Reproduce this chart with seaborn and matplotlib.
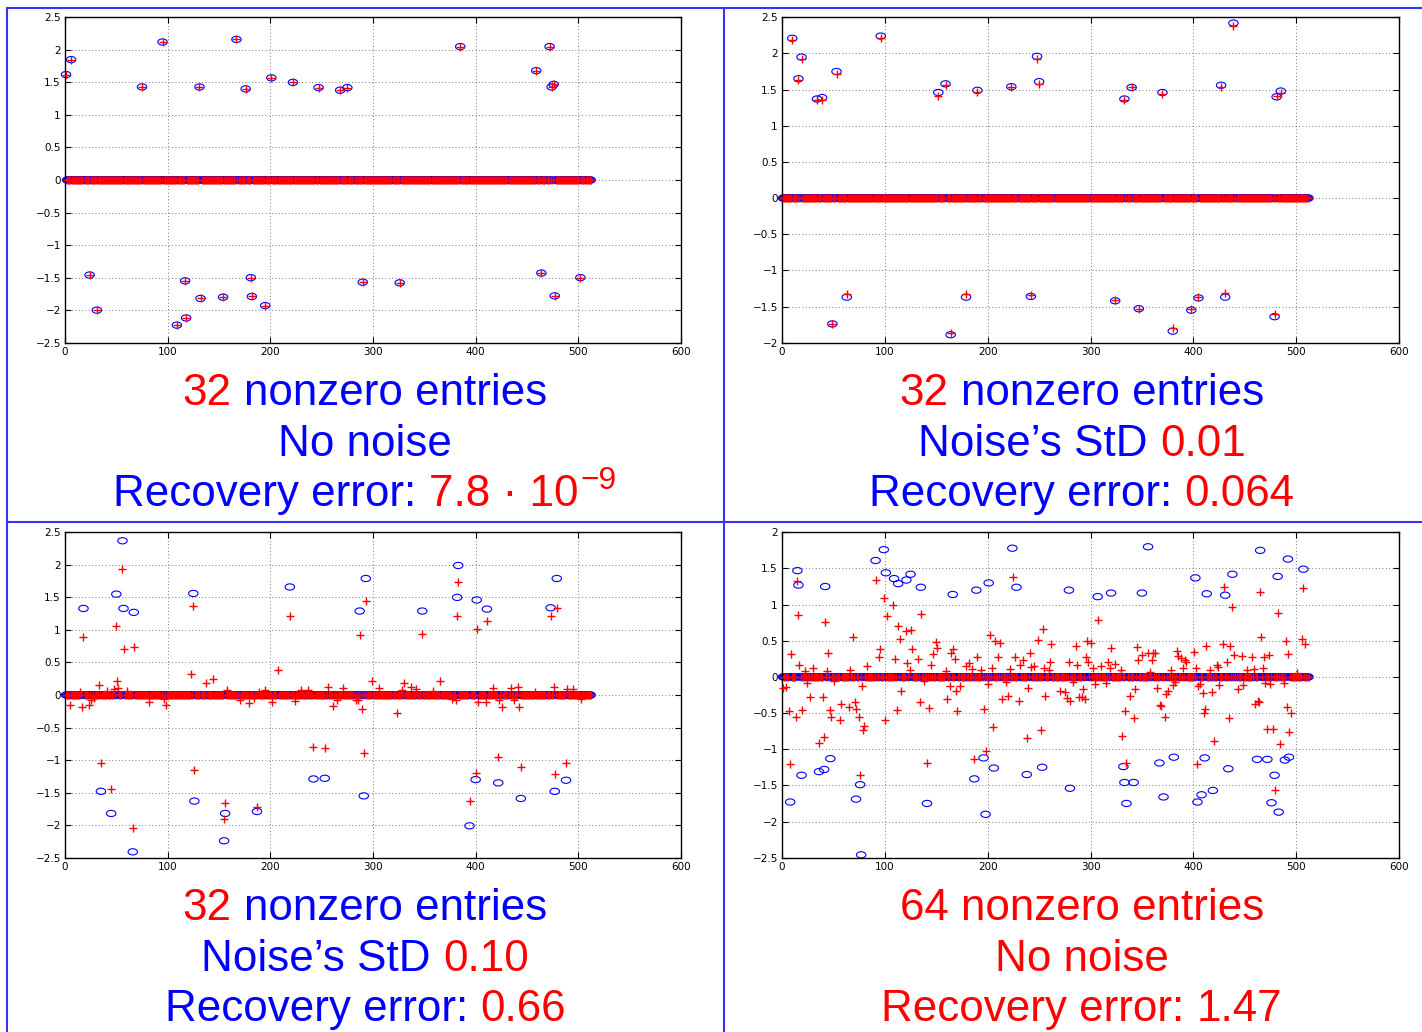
import numpy as np
import pandas as pd
import matplotlib
matplotlib.use("Agg")
import matplotlib.pyplot as plt
import seaborn as sns
from matplotlib.path import Path
from matplotlib.transforms import IdentityTransform
from matplotlib.ticker import FuncFormatter, MultipleLocator
from matplotlib.lines import Line2D

N = 512

# ---- Panel A: 32 spikes, noiseless measurements (index, value) ----
a_true = [(1, 1.62), (6, 1.85), (24, -1.46), (31, -2.00), (75, 1.43), (95, 2.12),
          (109, -2.23), (117, -1.55), (118, -2.12), (131, 1.43), (132, -1.82),
          (154, -1.80), (167, 2.16), (176, 1.40), (181, -1.50), (182, -1.79),
          (195, -1.93), (201, 1.57), (222, 1.50), (247, 1.42), (268, 1.38),
          (275, 1.42), (290, -1.57), (326, -1.58), (385, 2.05), (459, 1.68),
          (464, -1.43), (472, 2.05), (474, 1.43), (476, 1.47), (477, -1.78),
          (502, -1.50)]
# recovery is exact up to 7.8e-9
a_rec = list(a_true)

# ---- Panel B: 32 spikes, noise std 0.01 ----
b_true = [(10, 2.21), (16, 1.65), (19, 1.95), (34, 1.37), (39, 1.39), (49, -1.74),
          (53, 1.75), (63, -1.37), (96, 2.24), (152, 1.46), (159, 1.58),
          (164, -1.89), (179, -1.37), (190, 1.49), (223, 1.54), (242, -1.36),
          (248, 1.96), (250, 1.61), (324, -1.42), (333, 1.37), (340, 1.53),
          (347, -1.53), (370, 1.46), (380, -1.84), (398, -1.55), (405, -1.38),
          (427, 1.56), (431, -1.37), (439, 2.42), (479, -1.64), (481, 1.40),
          (485, 1.48)]
b_rec = [(10, 2.19), (16, 1.63), (19, 1.92), (34, 1.35), (39, 1.36), (49, -1.74),
         (53, 1.72), (63, -1.32), (96, 2.21), (152, 1.41), (159, 1.57),
         (164, -1.87), (179, -1.32), (190, 1.47), (223, 1.54), (242, -1.34),
         (248, 1.92), (250, 1.58), (324, -1.41), (333, 1.35), (340, 1.53),
         (347, -1.53), (370, 1.44), (380, -1.80), (398, -1.54), (405, -1.37),
         (427, 1.53), (431, -1.31), (439, 2.38), (479, -1.60), (481, 1.41),
         (485, 1.46)]

# ---- Panel C: 32 spikes, noise std 0.10 ----
c_true = [(18, 1.33), (35, -1.48), (45, -1.82), (50, 1.55), (56, 2.37), (57, 1.33),
          (66, -2.41), (67, 1.27), (125, 1.56), (126, -1.63), (155, -2.24),
          (156, -1.82), (187, -1.79), (219, 1.66), (242, -1.29), (253, -1.28),
          (287, 1.29), (291, -1.55), (293, 1.79), (348, 1.29), (382, 1.50),
          (383, 1.99), (394, -2.01), (400, -1.30), (401, 1.46), (411, 1.32),
          (422, -1.35), (444, -1.59), (473, 1.34), (477, -1.48), (479, 1.79),
          (488, -1.31)]
c_rec = [(5, -0.15), (15, 0.05), (17, -0.18), (18, 0.89), (23, -0.16), (25, -0.07),
         (28, -0.05), (33, 0.15), (35, -1.05), (41, 0.06), (45, -1.44), (48, 0.09),
         (50, 1.06), (51, 0.22), (52, 0.10), (56, 1.93), (57, 0.71), (60, 0.06),
         (66, -2.05), (67, 0.74), (82, -0.11), (96, -0.06), (98, -0.15), (123, 0.32),
         (125, 1.37), (126, -1.15), (137, 0.19), (144, 0.24), (155, -1.91),
         (156, -1.66), (158, 0.07), (170, -0.07), (179, -0.13), (184, -0.05),
         (187, -1.72), (189, 0.05), (195, 0.07), (202, -0.11), (207, 0.39),
         (219, 1.22), (224, -0.09), (230, 0.07), (237, 0.07), (242, -0.80),
         (253, -0.81), (256, 0.12), (261, -0.17), (265, -0.08), (271, 0.10),
         (283, -0.07), (285, -0.08), (287, 0.92), (289, -0.21), (291, -0.89),
         (293, 1.45), (299, 0.21), (306, 0.10), (323, -0.27), (328, 0.08),
         (330, 0.18), (337, 0.12), (342, 0.09), (348, 0.93), (358, 0.06),
         (365, 0.21), (377, -0.06), (381, -0.07), (382, 1.21), (383, 1.73),
         (394, -1.63), (400, -1.20), (401, 1.02), (402, -0.10), (410, -0.10),
         (411, 1.13), (417, 0.10), (422, -0.96), (423, -0.07), (426, -0.18),
         (434, 0.10), (437, -0.08), (441, 0.12), (442, -0.18), (444, -1.10),
         (458, 0.04), (473, 1.21), (476, 0.12), (477, -1.21), (479, 1.33),
         (488, -1.05), (489, 0.09), (495, 0.09), (503, -0.06)]

# ---- Panel D: 64 spikes, noiseless (recovery fails) ----
d_true = [(8, -1.73), (15, 1.47), (16, 1.27), (19, -1.36), (36, -1.31), (41, -1.28),
          (42, 1.25), (47, -1.13), (72, -1.69), (76, -1.49), (77, -2.46), (91, 1.61),
          (99, 1.76), (101, 1.44), (109, 1.36), (113, 1.29), (121, 1.34), (125, 1.42),
          (135, 1.24), (141, -1.75), (166, 1.14), (187, -1.41), (189, 1.20),
          (196, -1.12), (198, -1.90), (201, 1.30), (206, -1.26), (224, 1.78),
          (228, 1.24), (238, -1.35), (253, -1.25), (279, 1.20), (280, -1.54),
          (307, 1.11), (320, 1.16), (332, -1.24), (333, -1.46), (335, -1.75),
          (342, -1.46), (350, 1.16), (356, 1.80), (367, -1.19), (371, -1.66),
          (381, -1.11), (402, 1.37), (404, -1.73), (408, -1.63), (411, -1.12),
          (413, 1.15), (419, -1.57), (431, 1.13), (434, -1.27), (438, 1.42),
          (462, -1.14), (465, 1.75), (472, -1.14), (476, -1.74), (479, -1.36),
          (482, 1.39), (483, -1.87), (489, -1.15), (492, 1.63), (493, -1.11),
          (507, 1.49)]
d_rec = [(1, -0.16), (4, -0.14), (7, -0.47), (8, -1.21), (9, 0.32), (14, -0.56),
         (15, 1.32), (16, 0.86), (17, 0.17), (19, -0.46), (22, 0.08), (24, -0.09),
         (27, -0.28), (30, 0.13), (36, -0.92), (40, -0.28), (41, -0.83), (42, 0.76),
         (44, 0.08), (45, 0.33), (47, -0.46), (48, -0.55), (51, -0.05), (56, -0.60),
         (57, -0.37), (65, -0.42), (66, 0.10), (69, 0.55), (71, -0.35), (72, -0.44),
         (75, -0.56), (76, -1.36), (78, -0.13), (79, -0.74), (80, -0.68), (83, 0.15),
         (91, 1.34), (94, 0.27), (95, 0.38), (99, 1.09), (100, -0.59), (102, 0.84),
         (108, 0.99), (110, 0.25), (112, -0.46), (113, 0.71), (115, 0.52),
         (116, -0.20), (121, 0.63), (122, 0.19), (124, 0.09), (125, 0.65),
         (126, 0.38), (132, 0.25), (134, -0.34), (135, 0.87), (138, -0.06),
         (141, -1.19), (143, -0.43), (145, 0.16), (147, 0.32), (150, 0.48),
         (151, 0.40), (159, 0.08), (160, -0.31), (163, -0.13), (164, 0.33),
         (166, 0.38), (168, 0.25), (169, -0.20), (170, -0.47), (173, -0.12),
         (179, 0.15), (182, 0.19), (185, 0.11), (187, -1.13), (190, 0.27),
         (194, 0.09), (196, -0.45), (198, -1.02), (200, -0.10), (202, 0.58),
         (204, 0.12), (205, -0.69), (207, 0.50), (210, 0.28), (212, 0.47),
         (214, -0.31), (218, -0.07), (220, -0.26), (222, 0.11), (225, 1.38),
         (227, 0.28), (230, -0.33), (231, 0.16), (234, 0.24), (238, -0.84),
         (239, -0.16), (241, 0.33), (242, 0.14), (245, 0.15), (249, 0.51),
         (252, -0.73), (254, 0.66), (255, 0.13), (256, -0.26), (260, 0.09),
         (261, 0.20), (262, 0.45), (270, -0.20), (275, -0.21), (277, -0.29),
         (279, 0.21), (280, -0.33), (283, -0.07), (286, 0.43), (287, 0.17),
         (289, -0.28), (292, -0.28), (293, -0.17), (295, -0.30), (296, 0.28),
         (297, 0.49), (298, 0.21), (300, 0.47), (302, 0.12), (304, -0.10),
         (307, 0.79), (310, 0.15), (315, -0.09), (317, 0.21), (319, 0.13),
         (320, 0.40), (324, 0.18), (330, 0.09), (331, -0.82), (334, -0.47),
         (335, -1.19), (338, -0.26), (342, -0.57), (343, -0.17), (345, 0.41),
         (346, 0.23), (350, 0.30), (356, 0.33), (358, 0.07), (360, 0.24),
         (361, 0.33), (363, 0.33), (365, -0.15), (368, -0.39), (369, -0.40),
         (372, -0.55), (373, -0.23), (375, -0.20), (378, 0.09), (380, -0.11),
         (382, -0.07), (384, 0.36), (385, 0.29), (388, 0.26), (390, 0.12),
         (392, 0.24), (393, 0.20), (401, 0.34), (403, 0.13), (404, -1.21),
         (405, -0.12), (406, -0.10), (409, -0.22), (410, -0.50), (411, -0.45),
         (412, 0.43), (416, 0.10), (418, -0.21), (420, -0.88), (423, 0.16),
         (424, 0.14), (425, -0.11), (429, 0.46), (430, 1.25), (433, 0.21),
         (435, -0.57), (436, 0.43), (438, 0.97), (440, 0.30), (443, -0.17),
         (447, 0.29), (448, -0.11), (452, 0.10), (457, 0.28), (459, 0.11),
         (460, -0.38), (463, -0.33), (464, -0.35), (465, 1.17), (466, 0.55),
         (468, 0.13), (469, 0.27), (470, -0.09), (472, -0.72), (474, 0.30),
         (475, -0.10), (477, -0.72), (479, -1.57), (482, 0.89), (484, -0.93),
         (488, -0.09), (490, 0.49), (491, -0.42), (492, 0.32), (493, -0.76),
         (495, -0.50), (501, 0.05), (506, 0.53), (507, 1.23), (509, 0.46)]

RED = "#ff0000"
BLUE = "#0000ff"
FRAME = "#3333ff"

# caption lines: (text, colour, gap before in em, superscript?)
captions = {
    "A": [[("32", RED, 0, False), ("nonzero entries", BLUE, 0.278, False)],
          [("No noise", BLUE, 0, False)],
          [("Recovery error:", BLUE, 0, False), ("7.8 \u00b7 10", RED, 0.278, False),
           ("\u22129", RED, 0.05, True)]],
    "B": [[("32", RED, 0, False), ("nonzero entries", BLUE, 0.278, False)],
          [("Noise\u2019s StD", BLUE, 0, False), ("0.01", RED, 0.278, False)],
          [("Recovery error:", BLUE, 0, False), ("0.064", RED, 0.278, False)]],
    "C": [[("32", RED, 0, False), ("nonzero entries", BLUE, 0.278, False)],
          [("Noise\u2019s StD", BLUE, 0, False), ("0.10", RED, 0.278, False)],
          [("Recovery error:", BLUE, 0, False), ("0.66", RED, 0.278, False)]],
    "D": [[("64 nonzero entries", RED, 0, False)],
          [("No noise", RED, 0, False)],
          [("Recovery error:", RED, 0, False), ("1.47", RED, 0.278, False)]],
}


def dense(pairs):
    v = np.zeros(N)
    for i, val in pairs:
        v[i - 1] = val
    return v


W, H, DPI = 1422, 1032, 100
sns.set_style("ticks")
plt.rcParams["font.family"] = ["DejaVu Sans"]
fig = plt.figure(figsize=(W / DPI, H / DPI), dpi=DPI)
fig.patch.set_facecolor("white")

# flat oval marker, wider than tall
theta = np.linspace(0, 2 * np.pi, 49)
oval = Path(np.column_stack([np.cos(theta), 0.66 * np.sin(theta)]), closed=True)
fmt = FuncFormatter(lambda v, p: "0" if abs(v) < 1e-9 else f"{v:g}".replace("-", "\u2212"))

# axes boxes in pixels: (left, top, right, bottom)
panels = [
    ("A", a_true, a_rec, (-2.5, 2.5), (65, 17.3, 681, 342.7), 365),
    ("B", b_true, b_rec, (-2.0, 2.5), (782, 17.3, 1399, 342.7), 1082),
    ("C", c_true, c_rec, (-2.5, 2.5), (65, 532.3, 681, 857.7), 365),
    ("D", d_true, d_rec, (-2.5, 2.0), (782, 532.3, 1399, 857.7), 1082),
]

idx = np.arange(1, N + 1)
for key, tr, rc, ylim, (l, t, r, b), cx in panels:
    ax = fig.add_axes([l / W, 1 - b / H, (r - l) / W, (b - t) / H])
    df = pd.DataFrame({"i": idx, "true": dense(tr), "rec": dense(rc)})
    sns.scatterplot(data=df, x="i", y="true", ax=ax, marker=oval, s=46,
                    color=BLUE, facecolor="none", edgecolor=BLUE, linewidth=0.8,
                    zorder=2, clip_on=False, legend=False)
    sns.scatterplot(data=df, x="i", y="rec", ax=ax, marker="+", s=36,
                    color=RED, linewidth=1.0, zorder=3, clip_on=False, legend=False)
    ax.set_xlim(0, 600)
    ax.set_ylim(*ylim)
    ax.xaxis.set_major_locator(MultipleLocator(100))
    ax.yaxis.set_major_locator(MultipleLocator(0.5))
    ax.yaxis.set_major_formatter(fmt)
    ax.xaxis.set_major_formatter(fmt)
    ax.set_xlabel("")
    ax.set_ylabel("")
    ax.set_axisbelow(True)
    ax.grid(True, linestyle=(0, (1, 3)), color="0.3", linewidth=0.6)
    ax.tick_params(direction="in", top=True, right=True, length=4, width=0.8,
                   labelsize=7.5, pad=3, colors="black")
    for s in ax.spines.values():
        s.set_linewidth(1.0)
        s.set_color("black")

# captions below each plot, built from coloured pieces
renderer = fig.canvas.get_renderer()
SIZE = 31.7
px = SIZE * DPI / 72
for key, tr, rc, ylim, (l, t, r, b), cx in panels:
    baselines = [b + 62.5, b + 113, b + 163.5]
    for line, yb in zip(captions[key], baselines):
        objs, widths, gaps = [], [], []
        for txt, col, gap, sup in line:
            fs = SIZE * 0.72 if sup else SIZE
            yy = H - yb + (0.40 * px if sup else 0)
            o = fig.text(0, yy, txt, color=col, fontsize=fs, family="Liberation Sans",
                         ha="left", va="baseline", transform=IdentityTransform())
            objs.append(o)
            widths.append(o.get_window_extent(renderer).width)
            gaps.append(gap * px)
        total = sum(widths) + sum(gaps)
        x = cx - total / 2
        for o, w, g in zip(objs, widths, gaps):
            x += g
            o.set_x(x)
            x += w

# blue frame lines separating the four cells
tr_ = IdentityTransform()
for xs, ys in [((7, W), (8, 8)), ((7, 7), (8, H)), ((724, 724), (8, H)), ((7, W), (522, 522))]:
    fig.add_artist(Line2D(xs, [H - y for y in ys], color=FRAME, linewidth=1.5,
                          transform=tr_))

fig.savefig("out.png", dpi=DPI, facecolor="white")
